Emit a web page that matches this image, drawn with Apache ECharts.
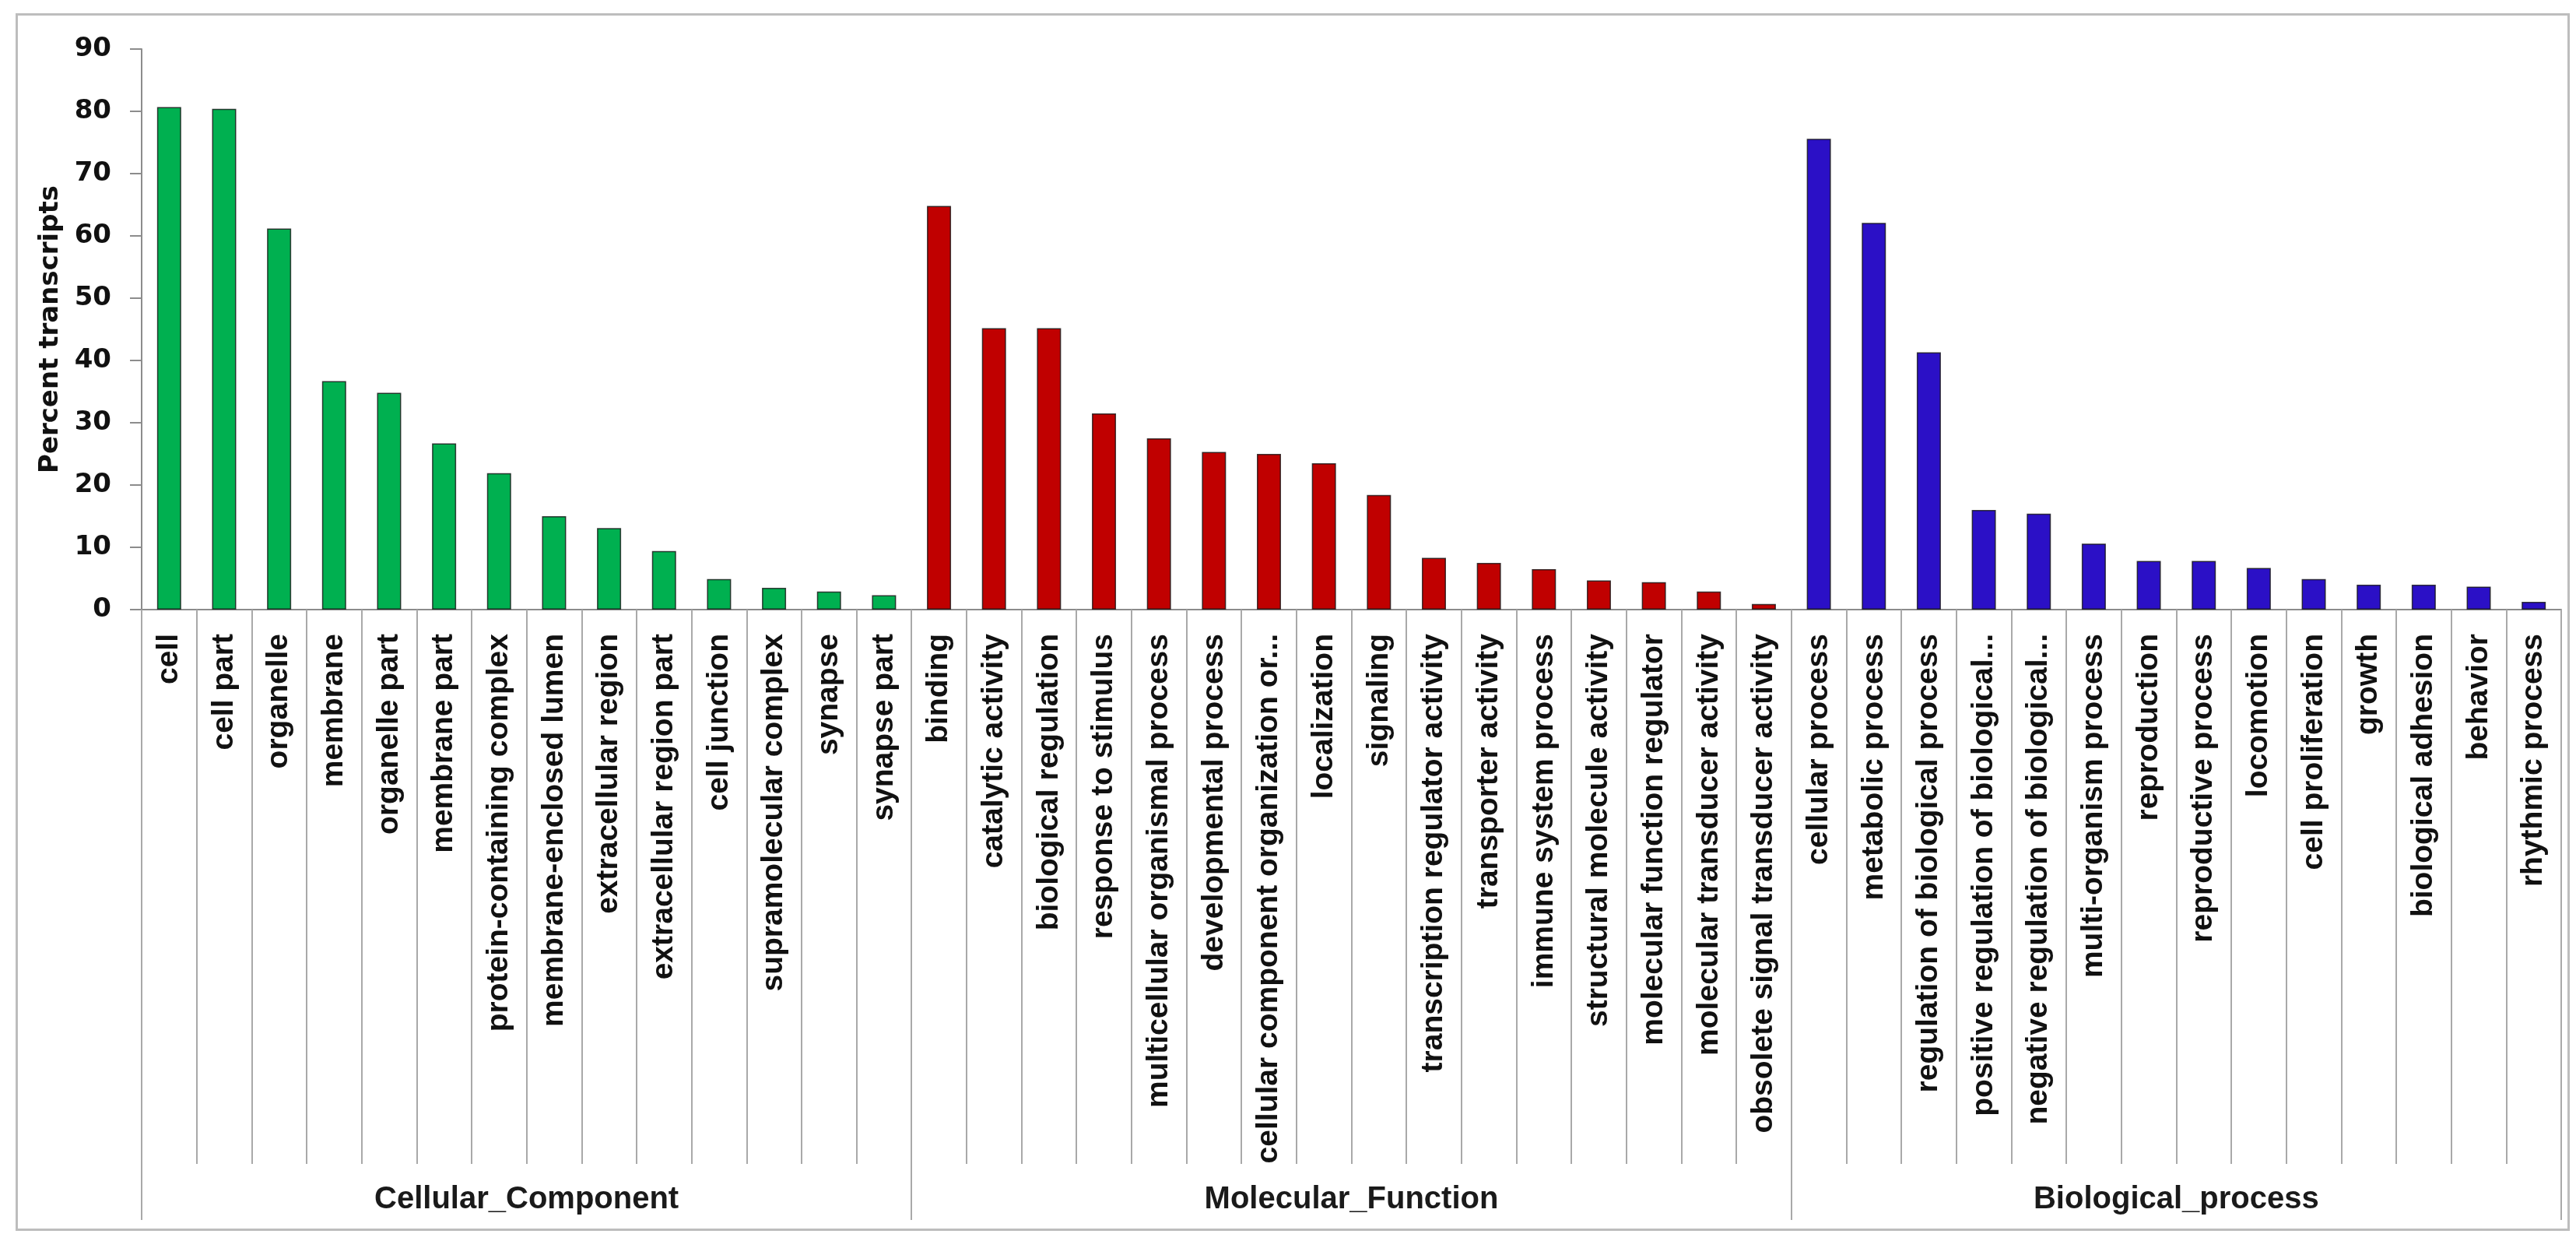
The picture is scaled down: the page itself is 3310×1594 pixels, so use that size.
<!DOCTYPE html>
<html>
<head>
<meta charset="utf-8">
<script src="https://cdn.jsdelivr.net/npm/echarts@6/dist/echarts.min.js"></script>
<style>
html,body{margin:0;padding:0;background:#fff;}
#chart{width:3310px;height:1594px;}
</style>
</head>
<body>
<div id="chart"></div>
<script>
// ---- data ----
const ccCategories = ["cell","cell part","organelle","membrane","organelle part","membrane part","protein-containing complex","membrane-enclosed lumen","extracellular region","extracellular region part","cell junction","supramolecular complex","synapse","synapse part"];
const ccValues = [80.7,80.4,61.2,36.7,34.8,26.7,21.9,15.0,13.1,9.4,4.9,3.5,2.9,2.3];

const mfCategories = ["binding","catalytic activity","biological regulation","response to stimulus","multicellular organismal process","developmental process","cellular component organization or...","localization","signaling","transcription regulator activity","transporter activity","immune system process","structural molecule activity","molecular function regulator","molecular transducer activity","obsolete signal transducer activity"];
const mfValues = [64.8,45.2,45.2,31.5,27.5,25.3,25.0,23.5,18.4,8.3,7.5,6.5,4.7,4.4,2.9,0.9];

const bpCategories = ["cellular process","metabolic process","regulation of biological process","positive regulation of biological...","negative regulation of biological...","multi-organism process","reproduction","reproductive process","locomotion","cell proliferation","growth","biological adhesion","behavior","rhythmic process"];
const bpValues = [75.6,62.1,41.3,16.0,15.4,10.6,7.8,7.8,6.7,4.9,4.0,4.0,3.7,1.25];

const groupNames = ["Cellular_Component","Molecular_Function","Biological_process"];
const yTicks = [0,10,20,30,40,50,60,70,80,90];
const yTitle = "Percent transcripts";

// ---- build ----
const groupCats = [ccCategories, mfCategories, bpCategories];
const groupVals = [ccValues, mfValues, bpValues];
const colors = ['#00b050', '#c00000', '#2b10c6'];
const allCats = [].concat(ccCategories, mfCategories, bpCategories);
const total = allCats.length;
const bounds = [0];
groupCats.forEach(g => bounds.push(bounds[bounds.length-1] + g.length));
const mids = groupNames.map((n,i) => (bounds[i] + bounds[i+1]) / 2);

const series = groupVals.map((vals, gi) => {
  const data = new Array(total).fill('-');
  vals.forEach((v, i) => { data[bounds[gi] + i] = v; });
  return {
    type: 'bar', name: groupNames[gi], stack: 'all', data: data,
    xAxisIndex: 0, yAxisIndex: 0, barWidth: 31,
    itemStyle: { color: colors[gi], borderColor: 'rgba(20,20,20,0.8)', borderWidth: 1.5 },
    silent: true
  };
});

const divColor = '#a9a9a9';
const chart = echarts.init(document.getElementById('chart'), null, {renderer: 'canvas'});
chart.setOption({
  animation: false,
  backgroundColor: '#ffffff',
  graphic: [{
    type: 'rect', left: 19, top: 16, z: -10,
    shape: { width: 3279, height: 1561 },
    style: { fill: 'none', stroke: '#bdbdbd', lineWidth: 3 }
  }],
  grid: [
    { left: 182, right: 19, top: 63, bottom: 811 },
    { left: 182, right: 19, top: 63, bottom: 811 }
  ],
  xAxis: [{
    type: 'category', gridIndex: 0, data: allCats, boundaryGap: true,
    axisLine: { show: true, lineStyle: { color: '#8c8c8c', width: 2 } },
    axisTick: { show: true, interval: 0, length: 712, lineStyle: { color: divColor, width: 2 } },
    axisLabel: {
      interval: 0, rotate: 90, margin: 31,
      fontFamily: 'Liberation Sans', fontWeight: 'bold', fontSize: 39, color: '#111'
    }
  }, {
    type: 'value', gridIndex: 1, min: 0, max: total,
    axisLine: { show: false },
    splitLine: { show: false },
    axisTick: { show: true, customValues: bounds, length: 784, lineStyle: { color: divColor, width: 2 } },
    axisLabel: {
      customValues: mids, margin: 738,
      fontFamily: 'Liberation Sans', fontWeight: 'bold', fontSize: 40, color: '#1a1a1a',
      formatter: function (v) { const i = mids.indexOf(v); return i >= 0 ? groupNames[i] : ''; }
    }
  }],
  yAxis: [{
    type: 'value', gridIndex: 0, min: yTicks[0], max: yTicks[yTicks.length-1], interval: yTicks[1] - yTicks[0],
    name: yTitle, nameLocation: 'middle', nameGap: 100, nameRotate: 90,
    nameTextStyle: { fontFamily: 'DejaVu Sans', fontWeight: 'bold', fontSize: 34, color: '#111' },
    axisLine: { show: true, lineStyle: { color: '#8c8c8c', width: 2 } },
    axisTick: { show: true, length: 15, lineStyle: { color: '#8c8c8c', width: 2 } },
    axisLabel: { margin: 39, fontFamily: 'DejaVu Sans', fontWeight: 'bold', fontSize: 34, color: '#111' },
    splitLine: { show: false }
  }, {
    type: 'value', gridIndex: 1, show: false, min: 0, max: 1
  }],
  series: series
});
</script>
</body>
</html>
